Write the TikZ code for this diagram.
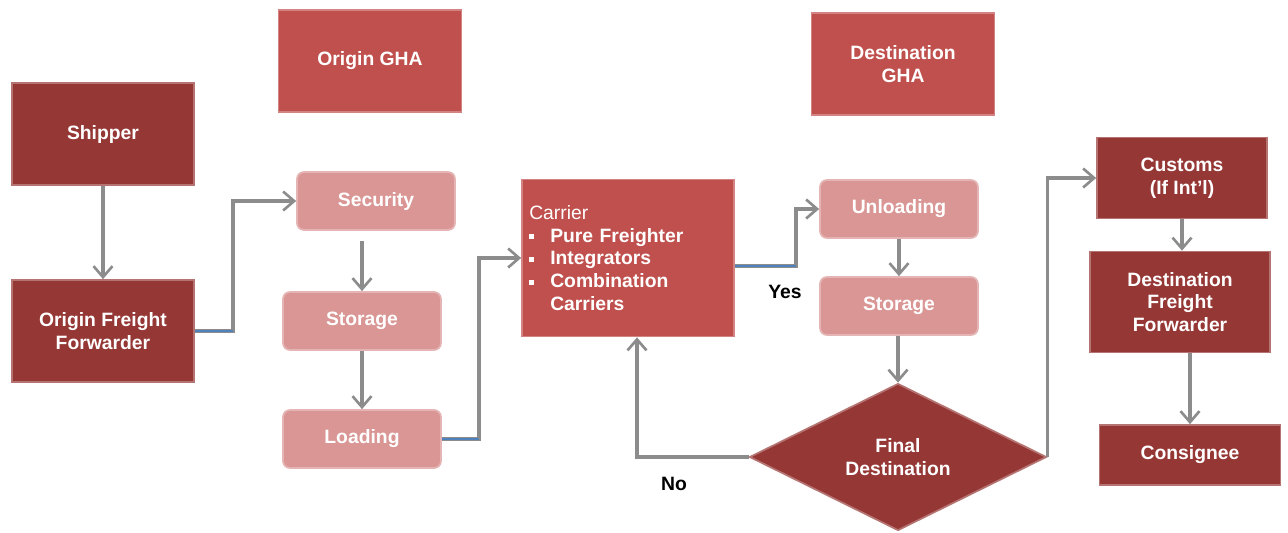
\documentclass[tikz,border=0pt]{standalone}
\usepackage{fontspec}
\setmainfont{Liberation Sans}
\usetikzlibrary{positioning, calc, arrows.meta, shapes.geometric}

\definecolor{partyred}{HTML}{953735}
\definecolor{ghared}{HTML}{C0504D}
\definecolor{taskred}{HTML}{D99694}
\definecolor{flowgray}{HTML}{8C8C8C}
\definecolor{linkblue}{HTML}{4F81BD}

% viñeta cuadrada
\newcommand{\sqbul}{\makebox[0.42cm][l]{\rule[0.3ex]{0.26em}{0.26em}}}

\begin{document}
\begin{tikzpicture}[
		x=0.02cm, y=-0.02cm,
		% --- ESTILOS ---
		party_box/.style={
			rectangle,
			draw=partyred!70!white,
			fill=partyred,
			line width=1pt,
			text=white,
			font=\bfseries\fontsize{11}{13}\selectfont,
			align=center,
			inner sep=2pt
		},
		gha_box/.style={
			party_box,
			draw=ghared!70!white,
			fill=ghared
		},
		task_box/.style={
			party_box,
			draw=taskred!70!white,
			fill=taskred,
			rounded corners=4pt,
			minimum width=3.16cm,
			minimum height=1.16cm
		},
		decision/.style={
			party_box,
			diamond,
			minimum width=5.94cm,
			minimum height=2.94cm,
			inner sep=0pt
		},
		flow_arrow/.style={
			-{Straight Barb[length=0.22cm, width=0.38cm, line width=1.5pt]},
			line width=2pt,
			color=flowgray
		},
		link_line/.style={
			line width=1.2pt,
			color=linkblue
		},
		answer/.style={
			font=\bfseries\fontsize{11}{13}\selectfont,
			text=black
		}
		]
		
		\useasboundingbox (0,0) rectangle (1288,532);
		
		% --- ORIGEN ---
		\node (shipper) [party_box, minimum width=3.64cm, minimum height=2.04cm] at (103,134) {Shipper};
		\node (off) [party_box, minimum width=3.64cm, minimum height=2.04cm] at (103,331) {Origin Freight\\Forwarder};
		
		% --- ORIGIN GHA ---
		\node (ogha) [gha_box, minimum width=3.66cm, minimum height=2.04cm] at (370,61) {Origin GHA};
		\node (sec) [task_box] at (376,201) {Security};
		\node (sto1) [task_box] at (362,321) {Storage};
		\node (load) [task_box] at (362,439) {Loading};
		
		% --- CARRIER ---
		\node (carrier) [gha_box, minimum width=4.24cm, minimum height=3.14cm, text width=3.95cm, align=left] at (628,258) {
			{\mdseries Carrier}\\
			\sqbul Pure Freighter\\
			\sqbul Integrators\\
			\sqbul Combination\\
			\hspace*{0.42cm}Carriers
		};
		
		% --- DESTINATION GHA ---
		\node (dgha) [gha_box, minimum width=3.66cm, minimum height=2.04cm] at (903,64) {Destination\\GHA};
		\node (unload) [task_box] at (899,209) {Unloading};
		\node (sto2) [task_box] at (899,306) {Storage};
		\node (final) [decision] at (898,457) {Final\\Destination};
		
		% --- DESTINO ---
		\node (customs) [party_box, minimum width=3.4cm, minimum height=1.62cm] at (1182,178) {Customs\\(If Int'l)};
		\node (dff) [party_box, minimum width=3.6cm, minimum height=2.02cm] at (1180,302) {Destination\\Freight\\Forwarder};
		\node (cons) [party_box, minimum width=3.62cm, minimum height=1.2cm] at (1190,455) {Consignee};
		
		% --- RESPUESTAS ---
		\node (yes) [answer] at (785,292) {Yes};
		\node (no) [answer] at (674,484) {No};
		
		% --- CONEXIONES ---
		\draw [flow_arrow] (shipper) -- (off);
		\draw [flow_arrow] (off.east) -- ++(38,0) |- (sec.west);
		\draw [link_line] (off.east) -- ++(38,0);
		
		\draw [flow_arrow, shorten <=0.2cm] (sec.south -| sto1.north) -- (sto1.north);
		\draw [flow_arrow] (sto1) -- (load);
		\draw [flow_arrow] (load.east) -- ++(37,0) |- (carrier.west);
		\draw [link_line] (load.east) -- ++(37,0);
		
		% Si es el destino final
		\draw [flow_arrow] ([yshift=-0.16cm]carrier.east) -- ++(61,0) |- (unload.west);
		\draw [link_line] ([yshift=-0.16cm]carrier.east) -- ++(61,0);
		\draw [flow_arrow] (unload) -- (sto2);
		\draw [flow_arrow] (sto2.south -| final.north) -- (final.north);
		
		% Si no, vuelve al carrier
		\draw [flow_arrow] (final.west) -| ([xshift=0.18cm]carrier.south);
		\draw [flow_arrow] (final.east) |- (customs.west);
		
		\draw [flow_arrow] (customs.south) -- (customs.south |- dff.north);
		\draw [flow_arrow] (dff.south -| cons.north) -- (cons.north);
		
	\end{tikzpicture}
\end{document}
